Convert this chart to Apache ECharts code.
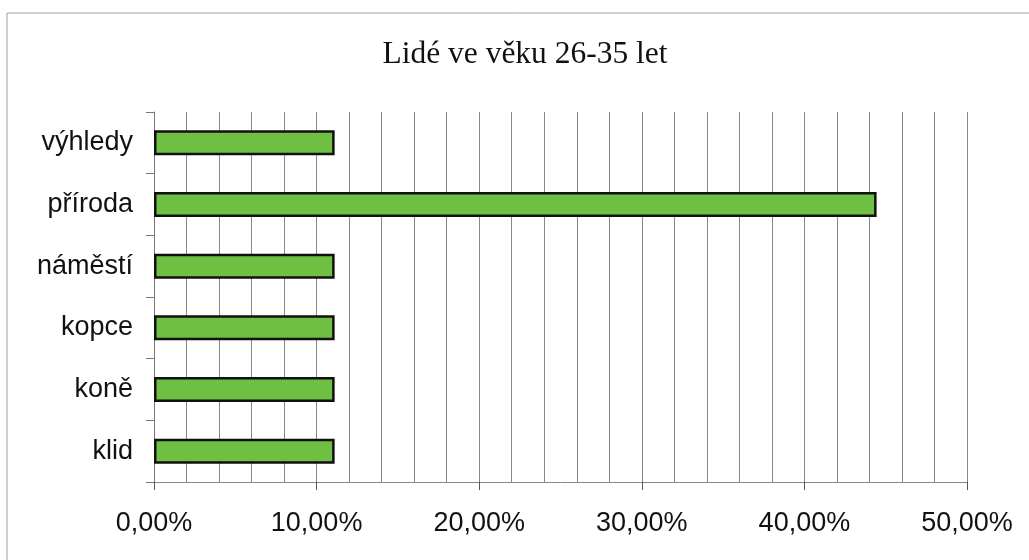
<!DOCTYPE html>
<html>
<head>
<meta charset="utf-8">
<script src="https://cdn.jsdelivr.net/npm/echarts@6/dist/echarts.min.js"></script>
<style>
html,body{margin:0;padding:0;background:#fff;}
#main{width:1029px;height:560px;}
</style>
</head>
<body>
<div id="main"></div>
<script>
const titleText = 'Lidé ve věku 26-35 let';
const categories = ['klid', 'koně', 'kopce', 'náměstí', 'příroda', 'výhledy'];
const values = [11.11, 11.11, 11.11, 11.11, 44.44, 11.11];
const xMin = 0, xMax = 50, xStep = 10;

const chart = echarts.init(document.getElementById('main'));
chart.setOption({
  backgroundColor: '#fff',
  animation: false,
  title: {
    text: titleText,
    left: 520,
    textAlign: 'center',
    top: 34,
    textStyle: {fontFamily: 'Liberation Serif', fontSize: 31.5, fontWeight: 'normal', color: '#111'}
  },
  graphic: [{
    type: 'rect',
    shape: {x: 7, y: 13, width: 1100, height: 700},
    style: {fill: 'none', stroke: '#a0a0a0', lineWidth: 1},
    silent: true
  }],
  grid: {left: 154, right: 62, top: 112, bottom: 78},
  xAxis: {
    type: 'value',
    min: xMin, max: xMax, interval: xStep,
    axisLine: {show: true, lineStyle: {color: '#888', width: 1}},
    axisTick: {show: true, length: 8, lineStyle: {color: '#555'}},
    splitLine: {show: true, lineStyle: {color: '#888', width: 1}},
    minorTick: {show: false, splitNumber: 5},
    minorSplitLine: {show: true, lineStyle: {color: '#888', width: 1}},
    axisLabel: {
      margin: 28,
      fontFamily: 'Liberation Sans', fontSize: 27, color: '#111',
      formatter: v => v.toFixed(2).replace('.', ',') + '%'
    }
  },
  yAxis: {
    type: 'category',
    data: categories,
    axisLine: {show: true, lineStyle: {color: '#777', width: 1}},
    axisTick: {show: true, length: 8, lineStyle: {color: '#777'}},
    splitLine: {show: false},
    axisLabel: {margin: 21, fontFamily: 'Liberation Sans', fontSize: 27, color: '#111'}
  },
  series: [{
    type: 'bar',
    data: values,
    barWidth: 25,
    itemStyle: {color: '#6fbf42', borderColor: '#111', borderWidth: 2.5}
  }]
});
</script>
</body>
</html>
